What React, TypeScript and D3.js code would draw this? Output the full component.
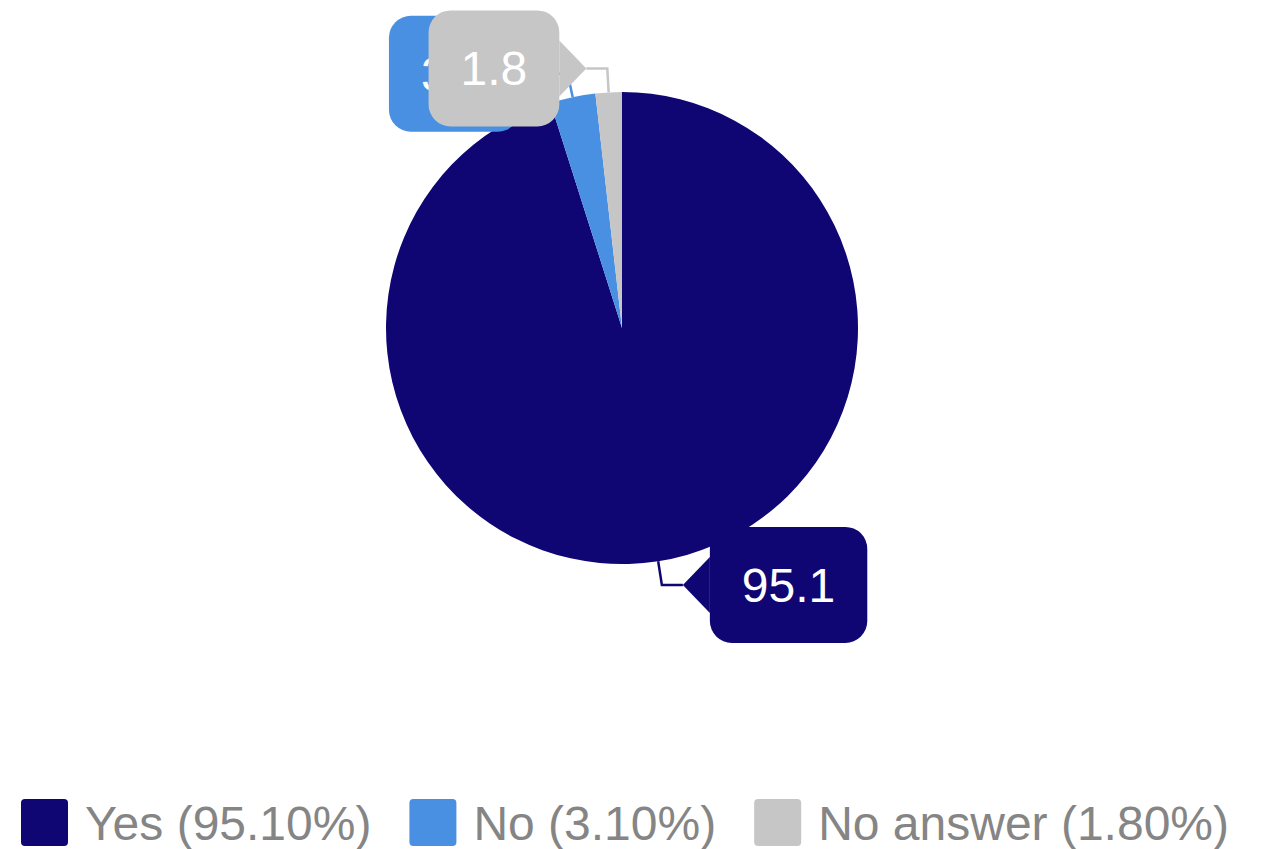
import React, { useEffect, useRef } from "react";
import * as d3 from "d3";

const categories = ["Yes", "No", "No answer"];
const values = [95.1, 3.1, 1.8];
const colors = ["#0f0674", "#4a90e2", "#c6c6c6"];

const width = 1261;
const height = 849;
const cx = 622;
const cy = 328;
const radius = 236;

function renderChart(svgEl: SVGSVGElement) {
  const svg = d3.select(svgEl);
  svg.selectAll("*").remove();

  const font = "'Liberation Sans', Arial, sans-serif";
  const pie = d3.pie<number>().sort(null).value((d) => d);
  const arcs = pie(values);
  const arc = d3.arc<d3.PieArcDatum<number>>().innerRadius(0).outerRadius(radius);

  const g = svg.append("g").attr("transform", "translate(" + cx + "," + cy + ")");

  g.selectAll("path.slice")
    .data(arcs)
    .enter()
    .append("path")
    .attr("class", "slice")
    .attr("d", arc)
    .attr("fill", (d, i) => colors[i]);

  // callout labels: radial tick, short horizontal run, then an arrow box
  const labels = g.append("g");
  arcs.forEach((d, i) => {
    const mid = (d.startAngle + d.endAngle) / 2;
    const side = Math.sin(mid) >= 0 ? 1 : -1;
    const p0 = d3.pointRadial(mid, radius);
    const p1 = d3.pointRadial(mid, radius + 24);
    const tip: [number, number] = [p1[0] + side * 21, p1[1]];

    labels
      .append("path")
      .attr("d", d3.line()([p0, p1, tip]))
      .attr("fill", "none")
      .attr("stroke", colors[i])
      .attr("stroke-width", 2.5);

    const lab = labels.append("g");
    const txt = lab
      .append("text")
      .attr("font-family", font)
      .attr("font-size", 48)
      .attr("fill", "#ffffff")
      .attr("text-anchor", "middle")
      .text(values[i].toFixed(1));
    const tw = (txt.node() as SVGTextElement).getComputedTextLength();
    const bw = tw + 64;
    const bh = 116;
    const edge = tip[0] + side * 27;
    const bx = side > 0 ? edge : edge - bw;
    const by = tip[1] - bh / 2;

    lab
      .insert("path", "text")
      .attr(
        "d",
        d3.line()([
          tip,
          [edge, tip[1] - 28],
          [edge, tip[1] + 28],
        ]) + "Z"
      )
      .attr("fill", colors[i]);
    lab
      .insert("rect", "text")
      .attr("x", bx)
      .attr("y", by)
      .attr("width", bw)
      .attr("height", bh)
      .attr("rx", 22)
      .attr("fill", colors[i]);
    txt.attr("x", bx + bw / 2).attr("y", tip[1] + 17);
  });

  // legend
  const legend = svg.append("g");
  let x = 21;
  categories.forEach((c, i) => {
    legend
      .append("rect")
      .attr("x", x)
      .attr("y", 799)
      .attr("width", 47)
      .attr("height", 47)
      .attr("rx", 4)
      .attr("fill", colors[i]);
    const t = legend
      .append("text")
      .attr("x", x + 64)
      .attr("y", 840)
      .attr("font-family", font)
      .attr("font-size", 48)
      .attr("fill", "#858585")
      .text(c + " (" + values[i].toFixed(2) + "%)");
    x += 64 + (t.node() as SVGTextElement).getComputedTextLength() + 38;
  });
}

export default function App() {
  const ref = useRef<SVGSVGElement>(null);
  useEffect(() => {
    if (ref.current) renderChart(ref.current);
  }, []);
  return (
    <svg
      ref={ref}
      width={width}
      height={height}
      style={{ position: "absolute", left: 0, top: 0, background: "#ffffff" }}
    />
  );
}
